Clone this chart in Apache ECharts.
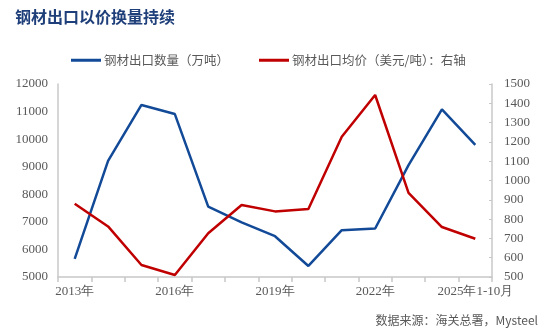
<!DOCTYPE html>
<html><head><meta charset="utf-8">
<script src="https://cdn.jsdelivr.net/npm/echarts@6/dist/echarts.min.js"></script>
<style>html,body{margin:0;padding:0;background:#fff}#c{width:550px;height:336px}</style>
</head><body><div id="c"></div>
<script>
const categories = ['2013年','2014年','2015年','2016年','2017年','2018年','2019年','2020年','2021年','2022年','2023年','2024年','2025年1-10月'];
const volume = [5660, 9210, 11240, 10910, 7550, 6980, 6480, 5400, 6700, 6760, 9060, 11080, 9790];
const price = [880, 762, 562, 510, 727, 873, 840, 852, 1227, 1443, 936, 759, 698];
const volumeName = '钢材出口数量（万吨）';
const priceName = '钢材出口均价（美元/吨）：右轴';
const titleText = '钢材出口以价换量持续';
const sourceText = '数据来源：海关总署，Mysteel';

const chart = echarts.init(document.getElementById('c'));
const serif = 'Liberation Serif';
const grey = '#595959';
chart.setOption({
  animation: false,
  title: {text: titleText, left: 10, top: 4,
    textStyle: {fontFamily: 'Noto Sans CJK SC', fontWeight: 'bold', fontSize: 16, color: '#1F3F7A'}},
  graphic: [{type: 'text', right: 12, top: 314,
    style: {text: sourceText, font: '12px "Noto Sans CJK SC"', fill: grey}}],
  legend: {top: 49, left: 66, itemGap: 30, itemWidth: 30, itemHeight: 3, itemStyle: {borderWidth: 0},
    textStyle: {fontFamily: 'Noto Sans CJK SC', fontSize: 12.5, color: grey, padding: [0, 0, 0, -2]},
    data: [{name: volumeName, icon: 'rect'}, {name: priceName, icon: 'rect'}]},
  grid: {left: 58, right: 58, top: 84, bottom: 59},
  xAxis: {type: 'category', data: categories, boundaryGap: true,
    axisLine: {lineStyle: {color: '#c8c8c8', width: 1.5}},
    axisTick: {show: true, interval: 0, length: 5, lineStyle: {color: '#c8c8c8', width: 1.5}},
    axisLabel: {interval: 2, color: grey, fontFamily: serif, fontSize: 13, margin: 8}},
  yAxis: [
    {type: 'value', min: 5000, max: 12000, interval: 1000,
      axisLine: {show: true, lineStyle: {color: '#c8c8c8', width: 1.5}},
      axisTick: {show: false}, splitLine: {show: false},
      axisLabel: {color: grey, fontFamily: serif, fontSize: 13, margin: 10, formatter: v => String(v)}},
    {type: 'value', min: 500, max: 1500, interval: 100, position: 'right',
      axisLine: {show: true, lineStyle: {color: '#c8c8c8', width: 1.5}},
      axisTick: {show: true, inside: true, length: 3, lineStyle: {color: '#c8c8c8'}}, splitLine: {show: false},
      axisLabel: {color: grey, fontFamily: serif, fontSize: 13, margin: 12, formatter: v => String(v)}}
  ],
  series: [
    {name: volumeName, type: 'line', data: volume, yAxisIndex: 0, symbol: 'none',
      lineStyle: {color: '#124A98', width: 2.5}, itemStyle: {color: '#124A98'}},
    {name: priceName, type: 'line', data: price, yAxisIndex: 1, symbol: 'none',
      lineStyle: {color: '#C00000', width: 2.5}, itemStyle: {color: '#C00000'}}
  ]
});
</script></body></html>
